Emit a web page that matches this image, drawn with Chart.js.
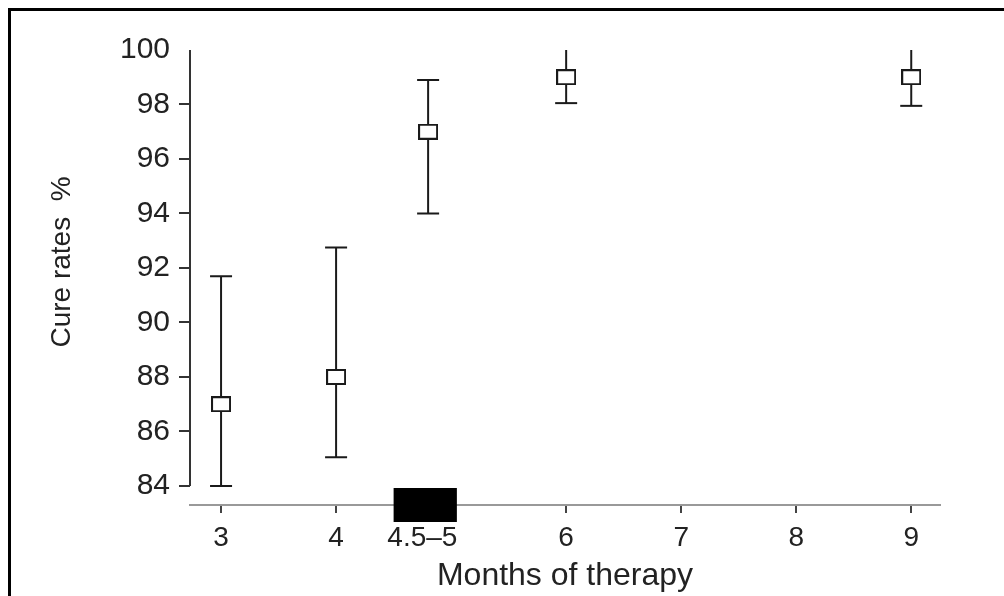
<!DOCTYPE html>
<html><head><meta charset="utf-8">
<script src="https://cdn.jsdelivr.net/npm/chart.js@4"></script>
<style>
html,body{margin:0;padding:0;background:#fff;overflow:hidden}
#wrap{position:relative;width:1004px;height:596px;overflow:hidden}
#frame{position:absolute;left:8px;top:8px;width:1100px;height:700px;border-left:3px solid #000;border-top:3px solid #000}
canvas{position:absolute;left:0;top:0}
</style></head><body>
<div id="wrap"><div id="frame"></div><canvas id="c" width="1004" height="596"></canvas></div>
<script>
// ---- data ----
const months = [3, 4, 4.8, 6, 9];
const cureRates = [87, 88, 97, 99, 99];
const lowerCI = [84, 85.05, 94, 98.05, 97.95];
const upperCI = [91.7, 92.75, 98.9, 100, 100];
const xTicks = [3, 4, 4.75, 6, 7, 8, 9];
const xTickLabels = ['3', '4', '4.5–5', '6', '7', '8', '9'];
const yTicks = [84, 86, 88, 90, 92, 94, 96, 98, 100];
const shortRegimen = [4.5, 5.05];

// ---- marker ----
const mk = document.createElement('canvas');
mk.width = 20; mk.height = 16;
const g = mk.getContext('2d');
g.fillStyle = '#fff'; g.fillRect(0, 0, 20, 16);
g.strokeStyle = '#1a1a1a'; g.lineWidth = 2; g.strokeRect(1, 1, 18, 14);

const FONT = "'Liberation Sans', Arial, sans-serif";

const extras = {
  id: 'extras',
  beforeDatasetsDraw(chart) {
    const {ctx, scales: {x, y}} = chart;
    ctx.save();
    ctx.strokeStyle = '#1a1a1a'; ctx.lineWidth = 2;
    months.forEach((m, i) => {
      const px = x.getPixelForValue(m);
      const lo = y.getPixelForValue(lowerCI[i]);
      const hi = y.getPixelForValue(upperCI[i]);
      ctx.beginPath(); ctx.moveTo(px, lo); ctx.lineTo(px, hi); ctx.stroke();
      ctx.beginPath();
      ctx.moveTo(px - 11, lo); ctx.lineTo(px + 11, lo);
      if (upperCI[i] < y.max) { ctx.moveTo(px - 11, hi); ctx.lineTo(px + 11, hi); }
      ctx.stroke();
    });
    ctx.restore();
  },
  afterDraw(chart) {
    const {ctx, scales: {x, y}, chartArea} = chart;
    ctx.save();
    // y axis line spanning only the tick range
    ctx.strokeStyle = '#333'; ctx.lineWidth = 2;
    ctx.beginPath();
    ctx.moveTo(chartArea.left, y.getPixelForValue(yTicks[0]));
    ctx.lineTo(chartArea.left, y.getPixelForValue(yTicks[yTicks.length - 1]));
    ctx.stroke();
    // black band for the 4.5–5 month regimen
    const x0 = x.getPixelForValue(shortRegimen[0]);
    const x1 = x.getPixelForValue(shortRegimen[1]);
    ctx.fillStyle = '#000';
    ctx.fillRect(x0, chartArea.bottom - 17, x1 - x0, 34);
    ctx.restore();
  }
};

new Chart(document.getElementById('c'), {
  type: 'scatter',
  data: {
    datasets: [{
      data: months.map((m, i) => ({x: m, y: cureRates[i]})),
      pointStyle: mk,
      pointRadius: 10,
      showLine: false
    }]
  },
  options: {
    responsive: false,
    animation: false,
    devicePixelRatio: 1,
    layout: {padding: {left: 0, top: 50, right: 64, bottom: 0}},
    plugins: {legend: {display: false}, tooltip: {enabled: false}},
    scales: {
      x: {
        type: 'linear', min: 2.73, max: 9.25,
        afterBuildTicks: s => { s.ticks = xTicks.map(v => ({value: v})); },
        afterFit: s => { s.height = 91; },
        ticks: {
          autoSkip: false, maxRotation: 0, padding: 8, color: '#222',
          font: {family: FONT, size: 28},
          callback: v => xTickLabels[xTicks.indexOf(v)]
        },
        grid: {drawOnChartArea: false, drawTicks: true, tickLength: 8, color: '#444', lineWidth: 2},
        border: {display: true, color: '#999', width: 2},
        title: {display: true, text: 'Months of therapy', color: '#222',
          font: {family: FONT, size: 32}, padding: {top: 0, bottom: 1}}
      },
      y: {
        type: 'linear', min: 83.3, max: 100,
        afterBuildTicks: s => { s.ticks = yTicks.map(v => ({value: v})); },
        afterFit: s => { s.width = 190; },
        ticks: {padding: 9, color: '#222', font: {family: FONT, size: 30}},
        grid: {drawOnChartArea: false, drawTicks: true, tickLength: 11, lineWidth: 2,
          color: c => (c.tick && c.tick.value === 100) ? 'rgba(0,0,0,0)' : '#333'},
        border: {display: false},
        title: {display: true, text: '    Cure rates  %', color: '#222',
          font: {family: FONT, size: 28}, padding: {top: 45, bottom: 0}}
      }
    }
  },
  plugins: [extras]
});
</script>
</body></html>
